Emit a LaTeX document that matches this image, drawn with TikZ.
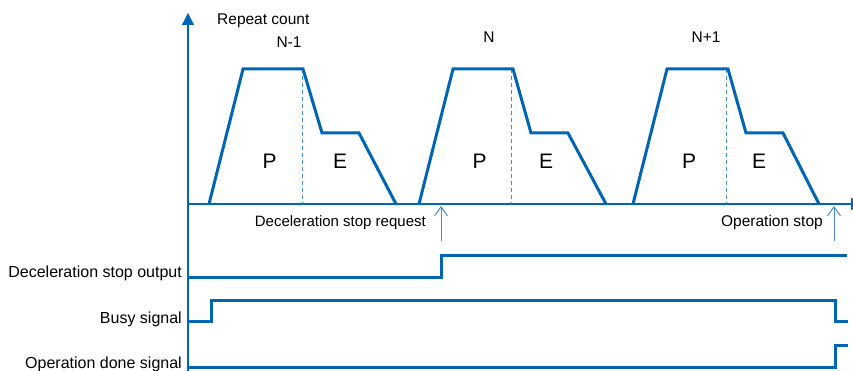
\documentclass[tikz,border=0pt]{standalone}
\usepackage{fontspec}
\setmainfont{Liberation Sans}
\usetikzlibrary{arrows.meta}
\definecolor{mainblue}{RGB}{0,102,180}
\definecolor{lightblue}{RGB}{70,140,205}
\tikzset{
  axisline/.style={draw=mainblue, line width=1.3pt},
  profile/.style={draw=mainblue, line width=3pt, line join=miter},
  signal/.style={draw=mainblue, line width=3pt, line join=miter},
  divider/.style={draw=lightblue, line width=1pt, dash pattern=on 4pt off 3pt},
  marker/.style={draw=lightblue, line width=1pt, -{Straight Barb[length=9pt,width=13pt]}},
  lbl/.style={font=\fontsize{15.5pt}{17pt}\selectfont, inner sep=0pt},
  siglbl/.style={font=\fontsize{16pt}{18pt}\selectfont, inner sep=0pt},
  big/.style={font=\fontsize{21pt}{24pt}\selectfont, inner sep=0pt}
}
\begin{document}
\begin{tikzpicture}[x=1pt,y=-1pt]
\useasboundingbox (0,0) rectangle (853,371);
\clip (0,0) rectangle (853,371);
% axes
\coordinate (vbot) at (188,371);
\coordinate (vtop) at (188,13);
\coordinate (hl) at (188,204);
\coordinate (hr) at (863,204);
\draw[axisline, -{Triangle[length=12pt,width=12pt]}] (vbot) -- (vtop);
\draw[axisline, -{Triangle[length=12pt,width=12pt]}] (hl) -- (hr);
% profiles
\foreach \nm/\a/\b/\c/\d/\e/\f/\g in {p1/209/243/303/322/359/396/302, p2/419/453/513/531/568/606/511, p3/633/667/728/746/783/819/726}{
  \coordinate (\nm s) at (\a,204);
  \coordinate (\nm t1) at (\b,69);
  \coordinate (\nm t2) at (\c,69);
  \coordinate (\nm m1) at (\d,133);
  \coordinate (\nm m2) at (\e,133);
  \coordinate (\nm e) at (\f,204);
  \coordinate (\nm dt) at (\g,69);
  \coordinate (\nm db) at (\g,204);
  \draw[divider] (\nm dt) -- (\nm db);
  \draw[profile] (\nm s) -- (\nm t1) -- (\nm t2) -- (\nm m1) -- (\nm m2) -- (\nm e);
}
% P / E labels
\node[big, anchor=base] (P1) at (269.5,169) {P};
\node[big, anchor=base] (E1) at (340,169) {E};
\node[big, anchor=base] (P2) at (479.5,169) {P};
\node[big, anchor=base] (E2) at (546,169) {E};
\node[big, anchor=base] (P3) at (689,169) {P};
\node[big, anchor=base] (E3) at (759,169) {E};
% top labels
\node[lbl, anchor=base west] (rc) at (217,25) {Repeat count};
\node[lbl, anchor=base] (n1) at (289,48) {N-1};
\node[lbl, anchor=base] (n2) at (489,43) {N};
\node[lbl, anchor=base] (n3) at (706,43) {N+1};
% request / stop markers
\node[lbl, font=\fontsize{15pt}{17pt}\selectfont, anchor=base east] (dsr) at (426,226) {Deceleration stop request};
\node[lbl, anchor=base east] (ops) at (823,226) {Operation stop};
\coordinate (a1b) at (441,241);
\coordinate (a1t) at (441,206);
\coordinate (a2b) at (834,241);
\coordinate (a2t) at (834,206);
\draw[marker] (a1b) -- (a1t);
\draw[marker] (a2b) -- (a2t);
% signal labels
\node[siglbl, anchor=base east] (dso) at (182,277) {Deceleration stop output};
\node[siglbl, anchor=base east] (bs) at (182,323) {Busy signal};
\node[siglbl, anchor=base east] (ods) at (182,368) {Operation done signal};
% signals
\draw[signal] (188,277) -- (441,277) -- (441,255) -- (847,255);
\draw[signal] (188,321) -- (211,321) -- (211,300) -- (835,300) -- (835,321) -- (848,321);
\draw[signal] (188,367) -- (835,367) -- (835,345) -- (848,345);
\end{tikzpicture}
\end{document}
